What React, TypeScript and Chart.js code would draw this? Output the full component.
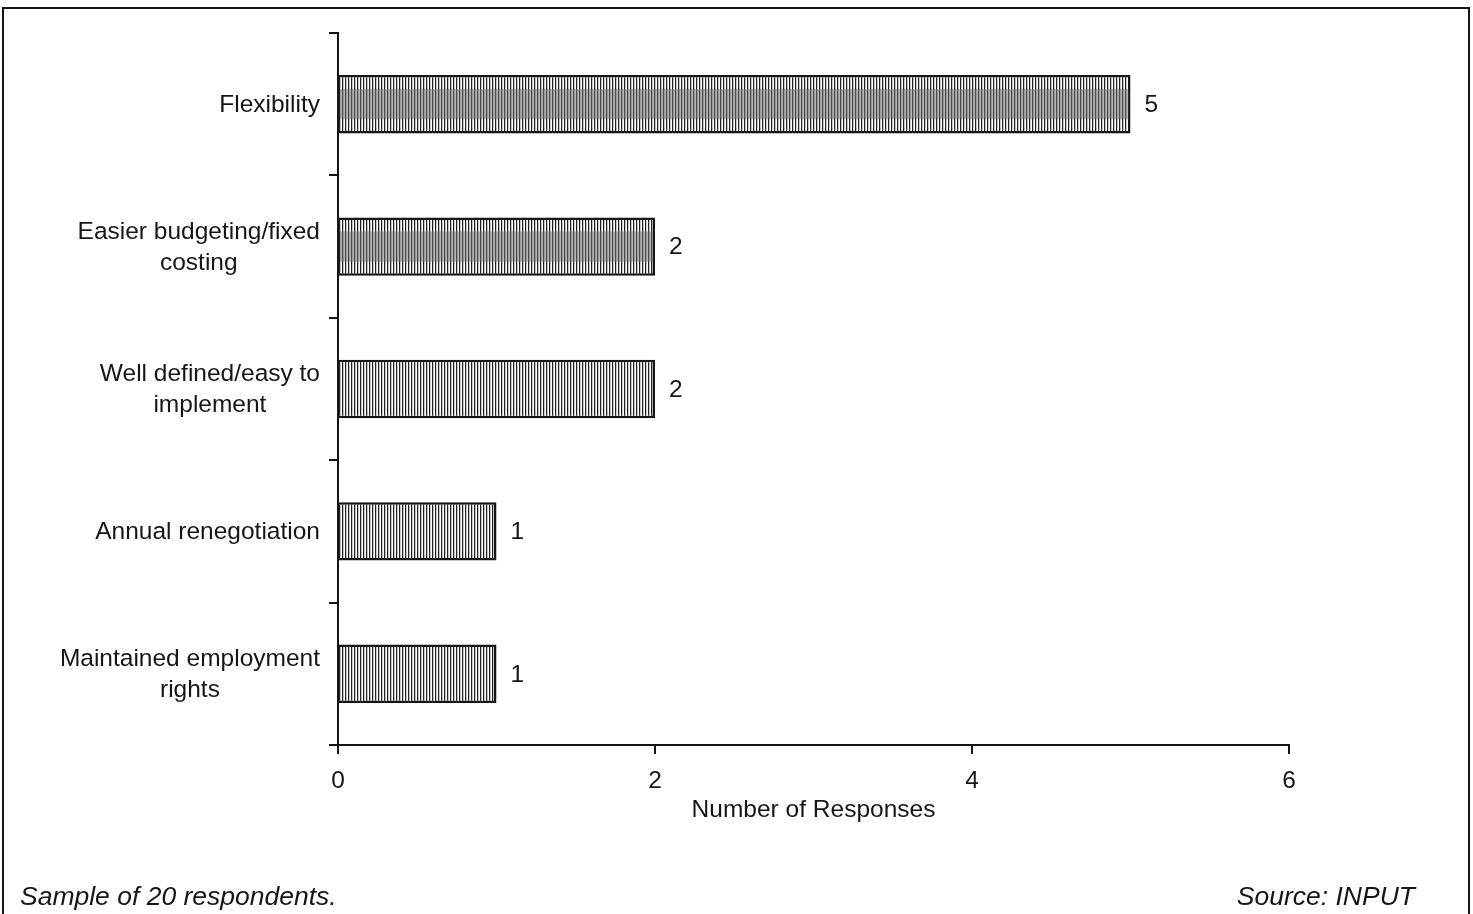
import React, { useEffect, useRef } from "react";
import { Chart, registerables } from "chart.js";

Chart.register(...registerables);

const categories: string[][] = [
  ["Flexibility"],
  ["Easier budgeting/fixed", "costing"],
  ["Well defined/easy to", "implement"],
  ["Annual renegotiation"],
  ["Maintained employment", "rights"],
];
const responses = [5, 2, 2, 1, 1];
const shadedBars = [true, true, false, false, false];
const xMin = 0;
const xMax = 6;
const xStep = 2;
const axisTitle = "Number of Responses";
const footnote = "Sample of 20 respondents.";
const sourceNote = "Source: INPUT";

const FONT = '"Liberation Sans", Arial, Helvetica, sans-serif';
const INK = "#161616";
const FS = 24.5;

function makeStripePattern(): CanvasPattern | string {
  const c = document.createElement("canvas");
  c.width = 3;
  c.height = 4;
  const g = c.getContext("2d");
  if (!g) return "#999";
  g.fillStyle = "#ffffff";
  g.fillRect(0, 0, 3, 4);
  g.fillStyle = "#222222";
  g.fillRect(0, 0, 1, 4);
  g.fillStyle = "#c4c4c4";
  g.fillRect(1, 0, 1, 4);
  const p = g.createPattern(c, "repeat");
  return p || "#999";
}

const decorPlugin = {
  id: "decor",
  afterDatasetsDraw(chart: any) {
    const ctx = chart.ctx as CanvasRenderingContext2D;
    const meta = chart.getDatasetMeta(0);
    ctx.save();
    meta.data.forEach((el: any, i: number) => {
      const { x, y, base, height } = el.getProps(["x", "y", "base", "height"], true);
      if (shadedBars[i]) {
        ctx.fillStyle = "rgba(110,110,110,0.5)";
        const bh = height * 0.52;
        ctx.fillRect(base + 1, y - bh / 2, x - base - 3, bh);
      }
      ctx.fillStyle = INK;
      ctx.font = `${FS}px ${FONT}`;
      ctx.textAlign = "left";
      ctx.textBaseline = "middle";
      ctx.fillText(String(responses[i]), x + 14, y + 1);
    });
    ctx.restore();
  },
  afterDraw(chart: any) {
    const ctx = chart.ctx as CanvasRenderingContext2D;
    const yScale = chart.scales.y;
    ctx.save();
    ctx.fillStyle = INK;
    ctx.font = `${FS}px ${FONT}`;
    ctx.textBaseline = "middle";
    ctx.textAlign = "center";
    const lineH = 31;
    categories.forEach((lines, i) => {
      const cy = yScale.getPixelForValue(i);
      const w = Math.max(...lines.map((l) => ctx.measureText(l).width));
      const cx = 320 - w / 2;
      const y0 = cy - ((lines.length - 1) * lineH) / 2;
      lines.forEach((l, k) => ctx.fillText(l, cx, y0 + k * lineH + 1));
    });
    ctx.font = `italic 26.5px ${FONT}`;
    ctx.textAlign = "left";
    ctx.fillText(footnote, 20, 898);
    ctx.textAlign = "right";
    ctx.fillText(sourceNote, 1415, 898);
    ctx.strokeStyle = INK;
    ctx.lineWidth = 2;
    ctx.beginPath();
    ctx.moveTo(3, 920);
    ctx.lineTo(3, 8);
    ctx.lineTo(1469, 8);
    ctx.lineTo(1469, 920);
    ctx.stroke();
    ctx.restore();
  },
};

export default function App() {
  const ref = useRef<HTMLCanvasElement | null>(null);

  useEffect(() => {
    document.body.style.margin = "0";
    document.body.style.background = "#ffffff";
    const canvas = ref.current;
    if (!canvas) return;
    const ctx = canvas.getContext("2d");
    if (!ctx) return;
    const pattern = makeStripePattern();

    const chart = new Chart(ctx, {
      type: "bar",
      data: {
        labels: categories.map((c) => c.join(" ")),
        datasets: [
          {
            data: responses,
            backgroundColor: pattern as any,
            borderColor: INK,
            borderWidth: 2.5,
            borderSkipped: "start",
            barPercentage: 0.41,
            categoryPercentage: 1,
          },
        ],
      },
      options: {
        indexAxis: "y",
        responsive: false,
        animation: false,
        devicePixelRatio: 1,
        layout: { padding: { top: 33, right: 184, left: 0, bottom: 0 } },
        plugins: {
          legend: { display: false },
          tooltip: { enabled: false },
        },
        scales: {
          x: {
            min: xMin,
            max: xMax,
            ticks: {
              stepSize: xStep,
              color: INK,
              font: { family: FONT, size: FS },
              padding: 13,
            },
            grid: {
              drawOnChartArea: false,
              drawTicks: true,
              tickLength: 9,
              color: INK,
              lineWidth: 2,
            },
            border: { display: true, color: INK, width: 2 },
            title: {
              display: true,
              text: axisTitle,
              color: INK,
              font: { family: FONT, size: FS },
              padding: { top: 0, bottom: 89 },
            },
            afterFit: (s: any) => {
              s.height = 169;
            },
          },
          y: {
            ticks: { display: false },
            grid: {
              drawOnChartArea: false,
              drawTicks: true,
              tickLength: 9,
              color: INK,
              lineWidth: 2,
              offset: true,
            },
            border: { display: true, color: INK, width: 2 },
            afterFit: (s: any) => {
              s.width = 338;
            },
          },
        },
      },
      plugins: [decorPlugin],
    });
    return () => chart.destroy();
  }, []);

  return (
    <div style={{ width: 1473, height: 914, overflow: "hidden" }}>
      <canvas ref={ref} width={1473} height={914} style={{ display: "block" }} />
    </div>
  );
}
